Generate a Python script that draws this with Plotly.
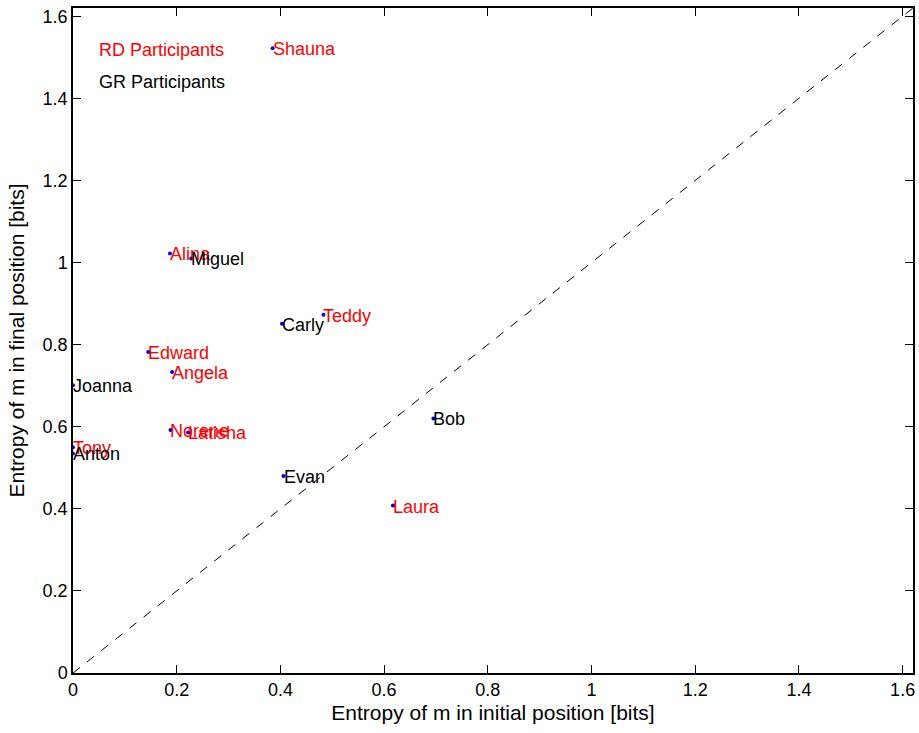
import plotly.graph_objects as go

# Data
rd_names = ["Shauna", "Alina", "Teddy", "Edward", "Angela", "Norene", "Latisha", "Tony", "Laura"]
rd_x = [0.385, 0.187, 0.483, 0.145, 0.191, 0.188, 0.222, 0.0, 0.617]
rd_y = [1.522, 1.022, 0.873, 0.782, 0.733, 0.592, 0.586, 0.550, 0.408]

gr_names = ["Miguel", "Carly", "Joanna", "Anton", "Evan", "Bob"]
gr_x = [0.228, 0.403, 0.0, 0.0, 0.406, 0.695]
gr_y = [1.010, 0.851, 0.701, 0.535, 0.480, 0.620]

legend_labels = ["RD Participants", "GR Participants"]
legend_x = [0.05, 0.05]
legend_y = [1.52, 1.442]
legend_colors = ["#ff0000", "#000000"]

diag = [0, 1.62]
ticks = [0, 0.2, 0.4, 0.6, 0.8, 1.0, 1.2, 1.4, 1.6]
tick_text = ["0", "0.2", "0.4", "0.6", "0.8", "1", "1.2", "1.4", "1.6"]

FONT = "Liberation Sans, Arial, Helvetica, sans-serif"
LBL = 18

fig = go.Figure()
fig.add_trace(go.Scatter(x=diag, y=diag, mode="lines",
                         line=dict(color="black", width=1, dash="9px,9px"),
                         hoverinfo="skip", showlegend=False))
fig.add_trace(go.Scatter(x=rd_x + gr_x, y=rd_y + gr_y, mode="markers",
                         marker=dict(color="#0000ff", size=4),
                         showlegend=False))

annotations = []
for n, x, y in zip(rd_names, rd_x, rd_y):
    annotations.append(dict(x=x, y=y, text=n, showarrow=False, xanchor="left",
                            yanchor="middle", xshift=-2, yshift=-1,
                            font=dict(color="#ff0000", size=LBL, family=FONT)))
for n, x, y in zip(gr_names, gr_x, gr_y):
    annotations.append(dict(x=x, y=y, text=n, showarrow=False, xanchor="left",
                            yanchor="middle", xshift=-2, yshift=-1,
                            font=dict(color="#000000", size=LBL, family=FONT)))
for n, x, y, c in zip(legend_labels, legend_x, legend_y, legend_colors):
    annotations.append(dict(x=x, y=y, text=n, showarrow=False, xanchor="left",
                            yanchor="middle", xshift=-2, yshift=-1,
                            font=dict(color=c, size=LBL, family=FONT)))

axis_common = dict(range=[0, 1.62], tickvals=ticks, ticktext=tick_text,
                   ticks="inside", ticklen=8, tickwidth=1, tickcolor="black",
                   showline=True, linecolor="black", linewidth=1.5, mirror="ticks",
                   showgrid=False, zeroline=False, automargin=False,
                   tickfont=dict(size=18, family=FONT, color="black"))

fig.update_layout(
    width=919, height=733,
    margin=dict(l=73, r=6, t=8, b=60),
    plot_bgcolor="white", paper_bgcolor="white",
    font=dict(family=FONT, color="black"),
    xaxis=dict(axis_common, title=dict(text="Entropy of m in initial position [bits]",
                                       font=dict(size=21, family=FONT), standoff=6)),
    yaxis=dict(axis_common, title=dict(text="Entropy of m in final position [bits]",
                                       font=dict(size=21, family=FONT), standoff=12)),
    annotations=annotations,
    showlegend=False,
)

fig.write_html("out.html", config={"displayModeBar": False},
               post_script="document.body.style.margin='0';document.body.style.padding='0';")
